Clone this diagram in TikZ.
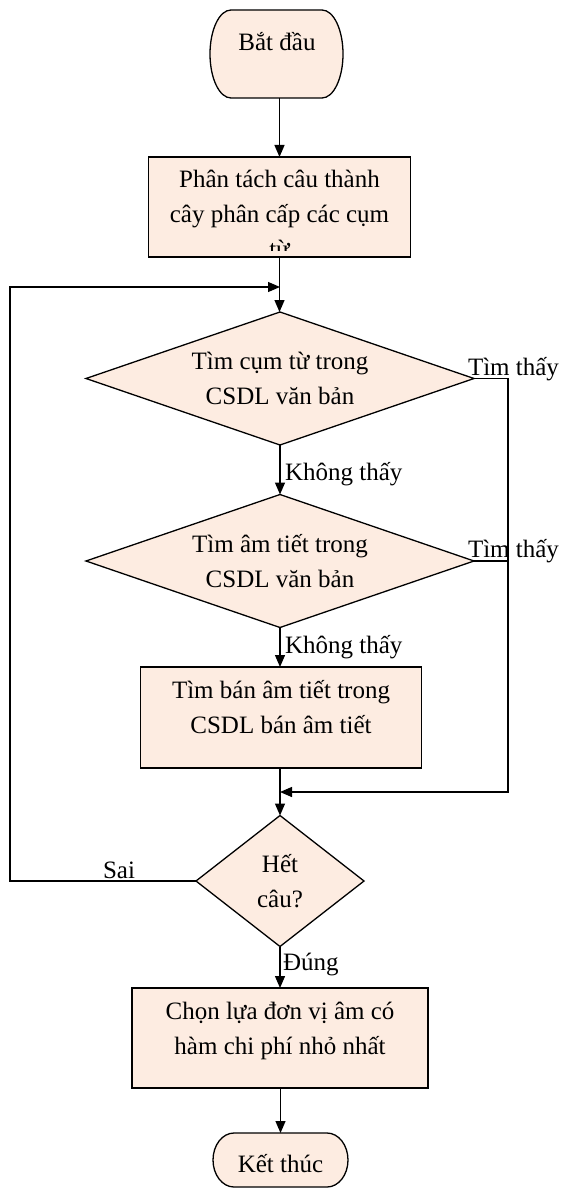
\documentclass[tikz,border=0pt]{standalone}
\usepackage{fontspec}
\setmainfont{Liberation Serif}
\usetikzlibrary{shapes.geometric,arrows.meta,calc}
\definecolor{peach}{RGB}{253,236,225}
\begin{document}
\begin{tikzpicture}[x=1pt,y=-1pt,
  every node/.style={font=\fontsize{25}{35}\selectfont, inner sep=0pt, outer sep=0pt},
  link/.style={line width=1.3pt},
  flow/.style={line width=1.3pt, -{Triangle[length=12pt,width=10pt]}},
  box/.style={draw, line width=1.3pt, fill=peach, rectangle},
  dec/.style={draw, line width=1.3pt, fill=peach, diamond, align=center},
  frame/.style={rectangle},
  termline/.style={draw, line width=1.3pt, fill=peach},
  txt/.style={align=center, anchor=base},
  lbl/.style={anchor=base west}]

\fill[white] (0,0) rectangle (561,1190);
\useasboundingbox (0,0) rectangle (561,1190);

% start terminator
\node[frame, minimum width=133pt, minimum height=88pt] (start) at (276.5,54) {};
\path[termline] ([xshift=21pt]start.north west) -- ([xshift=-21pt]start.north east)
  arc[start angle=90, end angle=-90, x radius=21pt, y radius=44pt]
  -- ([xshift=21pt]start.south west)
  arc[start angle=270, end angle=90, x radius=21pt, y radius=44pt] -- cycle;
\node[anchor=base] (tstart) at (277,51) {Bắt đầu};

% parsing step (text runs past the bottom of the box)
\node[box, minimum width=262pt, minimum height=100pt] (b1) at (279.5,207) {};
\begin{scope}
  \clip (b1.north west) rectangle ([yshift=7pt]b1.south east);
  \node[txt] (tb1) at (279.5,257) {Phân tách câu thành\\cây phân cấp các cụm\\từ};
\end{scope}

% decisions and steps
\node[dec, minimum width=388pt, minimum height=133pt, aspect=2.9] (d1) at (280,378.5)
  {Tìm cụm từ trong\\CSDL văn bản};
\node[dec, minimum width=388pt, minimum height=133pt, aspect=2.9] (d2) at (280,561)
  {Tìm âm tiết trong\\CSDL văn bản};
\node[box, minimum width=281pt, minimum height=101pt] (b3) at (281,717.5) {};
\node[txt] (tb3) at (281,733) {Tìm bán âm tiết trong\\CSDL bán âm tiết};
\node[dec, minimum width=168pt, minimum height=131pt, aspect=1.28] (d3) at (280,881)
  {Hết\\câu?};
\node[box, minimum width=296pt, minimum height=100pt] (b4) at (280,1038) {};
\node[txt] (tb4) at (280,1054) {Chọn lựa đơn vị âm có\\hàm chi phí nhỏ nhất};

% end terminator
\node[frame, minimum width=135pt, minimum height=54pt] (end) at (280.5,1160) {};
\path[termline] ([xshift=21pt]end.north west) -- ([xshift=-21pt]end.north east)
  arc[start angle=90, end angle=-90, x radius=21pt, y radius=27pt]
  -- ([xshift=21pt]end.south west)
  arc[start angle=270, end angle=90, x radius=21pt, y radius=27pt] -- cycle;
\node[anchor=base] (tend) at (280.5,1172) {Kết thúc};

% routing points
\coordinate (lx) at (10,0);
\coordinate (rx) at (508,0);
\coordinate (loopin) at (280,287);
\coordinate (merge) at (280,792);

% main flow
\draw[flow] (start.south -| b1.north) -- (b1.north);
\draw[flow] (b1.south) -- (b1.south |- d1.north);
\draw[flow] (d1.south) -- (d2.north);
\draw[flow] (d2.south) -- (d2.south |- b3.north);
\draw[flow] (b3.south -| d3.north) -- (d3.north);
\draw[flow] (d3.south) -- (d3.south |- b4.north);
\draw[flow] (b4.south -| end.north) -- (end.north);

% found branches
\draw[flow] (d1.east) -- (d1.east -| rx) -- (rx |- merge) -- (merge);
\draw[link] (d2.east) -- (d2.east -| rx);

% loop back
\draw[flow] (d3.west) -- (d3.west -| lx) -- (lx |- loopin) -- (loopin);

% branch labels
\node[lbl] (yes1) at (468,375) {Tìm thấy};
\node[lbl] (yes2) at (468,557) {Tìm thấy};
\node[lbl] (no1) at (285,480) {Không thấy};
\node[lbl] (no2) at (285,653) {Không thấy};
\node[lbl] (sai) at (103,878) {Sai};
\node[lbl] (dung) at (283,970) {Đúng};
\end{tikzpicture}
\end{document}
